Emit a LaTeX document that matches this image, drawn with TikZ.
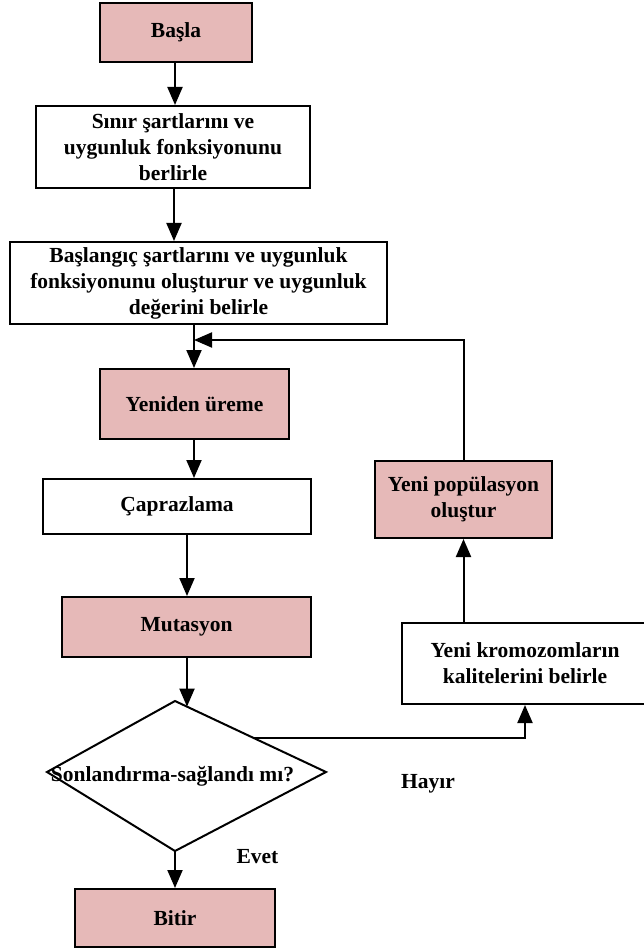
\documentclass[tikz,border=0pt]{standalone}
\usepackage{fontspec}
\setmainfont{Liberation Serif}
\usetikzlibrary{arrows.meta,calc}
\definecolor{pinkfill}{HTML}{E6B9B8}
\begin{document}
\begin{tikzpicture}[x=1pt,y=-1pt,
  every node/.style={font=\fontsize{21.5}{26}\selectfont\bfseries, align=center, inner sep=0pt},
  box/.style={draw, line width=2pt, rectangle},
  pinkbox/.style={box, fill=pinkfill},
  whitebox/.style={box, fill=white},
  conn/.style={line width=2pt, -{Triangle[length=18pt,width=15pt]}},
  plain/.style={line width=2pt}
]
\useasboundingbox (0,0) rectangle (644,949);

\node[pinkbox, minimum width=152pt, minimum height=59pt] (basla) at (176,32.5) {Başla};
\node[whitebox, minimum width=274pt, minimum height=82pt] (sinir) at (173,147) {Sınır şartlarını ve\\uygunluk fonksiyonunu\\berlirle};
\node[whitebox, minimum width=377pt, minimum height=82pt] (baslangic) at (198.5,283) {Başlangıç şartlarını ve uygunluk\\fonksiyonunu oluşturur ve uygunluk\\değerini belirle};
\node[pinkbox, minimum width=189pt, minimum height=70pt] (yeniden) at (194.5,404) {Yeniden üreme};
\node[whitebox, minimum width=268pt, minimum height=55pt] (capraz) at (177,506.5) {Çaprazlama};
\node[pinkbox, minimum width=249pt, minimum height=60pt] (mutasyon) at (186.5,627) {Mutasyon};
\node[pinkbox, minimum width=200pt, minimum height=58pt] (bitir) at (175,918) {Bitir};
\node[pinkbox, minimum width=177pt, minimum height=77pt] (yenipop) at (463.5,499.5) {Yeni popülasyon\\oluştur};
\node[whitebox, minimum width=246pt, minimum height=81pt] (kromo) at (525,663.5) {Yeni kromozomların\\kalitelerini belirle};

% decision diamond
\coordinate (dt) at (175,701);
\coordinate (dr) at (326,772);
\coordinate (db) at (175,851);
\coordinate (dl) at (47,772);
\draw[plain, line join=miter] (dt) -- (dr) -- (db) -- (dl) -- cycle;
\node (kararmetin) at (172.5,776) {Sonlandırma-sağlandı mı?};

\node (hayir) at (428,784) {Hayır};
\node (evet) at (257.5,857) {Evet};

\coordinate (join) at (194,340);
\coordinate (dtop) at (187,706.6);
\coordinate (dright) at (253.7,738);
\coordinate (turn) at (525,738);

\draw[conn] (basla.south -| 175,0) -- (sinir.north -| 175,0);
\draw[conn] (sinir.south -| 174,0) -- (baslangic.north -| 174,0);
\draw[conn] (baslangic.south -| 194,0) -- (yeniden.north -| 194,0);
\draw[conn] (yenipop.north) |- (join);
\draw[conn] (yeniden.south -| 194,0) -- (capraz.north -| 194,0);
\draw[conn] (capraz.south -| 187,0) -- (mutasyon.north -| 187,0);
\draw[conn] (mutasyon.south -| 187,0) -- (dtop);
\draw[conn] (dright) -- (turn) -- (kromo.south -| turn);
\draw[conn] (db) -- (bitir.north -| db);
\draw[conn] (kromo.north -| yenipop.north) -- (yenipop.south);
\end{tikzpicture}
\end{document}
